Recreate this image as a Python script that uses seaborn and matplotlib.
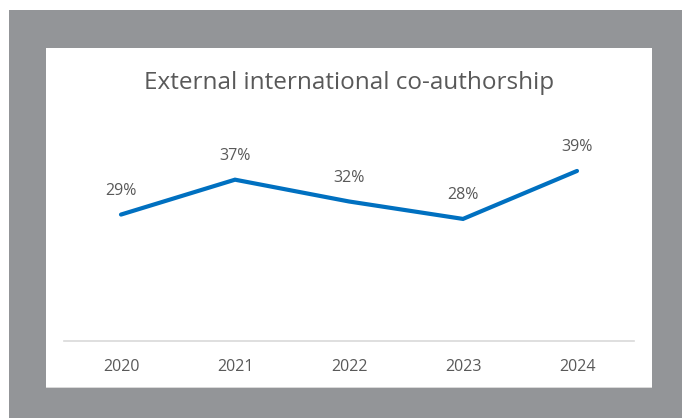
import matplotlib
matplotlib.use("Agg")
import matplotlib.pyplot as plt
from matplotlib.patches import Rectangle
import seaborn as sns
import pandas as pd

years = ["2020", "2021", "2022", "2023", "2024"]
share = [29, 37, 32, 28, 39]
title = "External international co-authorship"

sns.set_theme(style="white")
plt.rcParams['font.family'] = ['Open Sans', 'DejaVu Sans']

W, H = 682, 418
fig = plt.figure(figsize=(W / 100, H / 100), dpi=100)
fig.patch.set_facecolor("white")

def px_rect(x0, y0, x1, y1, **kw):
    return Rectangle((x0 / W, 1 - y1 / H), (x1 - x0) / W, (y1 - y0) / H,
                     transform=fig.transFigure, **kw)

fig.patches.append(px_rect(9, 10, 682, 418, facecolor="#939598", edgecolor="none", zorder=-10))
fig.patches.append(px_rect(46, 48, 652, 388, facecolor="#D9D9D9", edgecolor="none", zorder=-9))
fig.patches.append(px_rect(46, 48, 652, 387, facecolor="white", edgecolor="none", zorder=-8))

ax = fig.add_axes([64 / W, 1 - 341 / H, 570 / W, 218 / H])
ax.set_zorder(1)
ax.patch.set_alpha(0)

df = pd.DataFrame({"year": years, "share": share})
sns.lineplot(data=df, x="year", y="share", ax=ax, color="#0070C0",
             linewidth=3.0, sort=False, solid_capstyle="round",
             solid_joinstyle="miter")

ax.set_xlim(-0.5, len(years) - 0.5)
ax.set_ylim(0, 50)

for i, v in enumerate(share):
    ax.annotate(f"{v}%", (i, v), xytext=(0, 17), textcoords="offset points",
                ha="center", va="center", fontsize=11.5, color="#595959")

for s in ["left", "right", "top"]:
    ax.spines[s].set_visible(False)
ax.spines["bottom"].set_color("#D9D9D9")
ax.spines["bottom"].set_linewidth(1.2)
ax.set_yticks([])
ax.set_xlabel("")
ax.set_ylabel("")
ax.tick_params(axis="x", length=0, pad=13, labelsize=11.5, labelcolor="#595959")

fig.text((46 + 652) / 2 / W, 1 - 83 / H, title, ha="center", va="center",
         fontsize=17.5, color="#595959", zorder=5)

fig.savefig("out.png", dpi=100)
